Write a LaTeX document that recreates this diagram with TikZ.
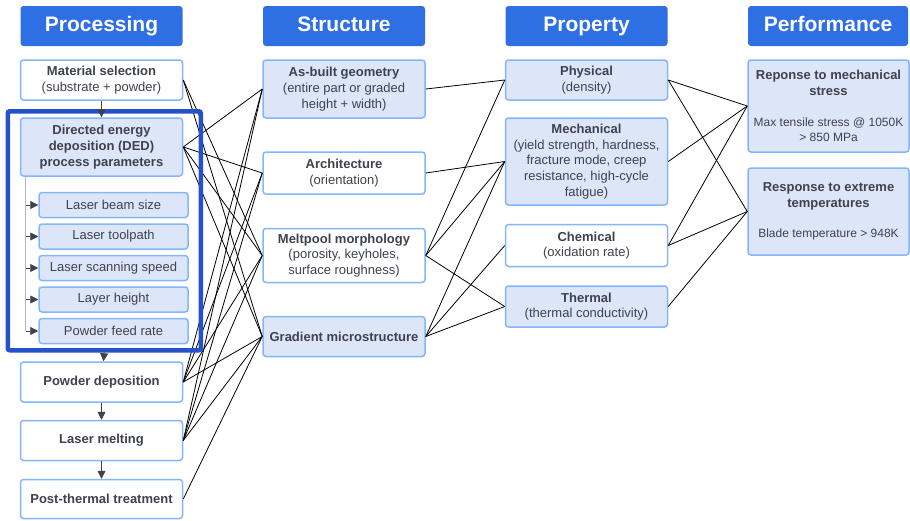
\documentclass[tikz,border=0pt]{standalone}
\usepackage{fontspec}
\setmainfont{Liberation Sans}
\usepackage{tikz}
\usetikzlibrary{calc,positioning,fit,arrows.meta}

\definecolor{headblue}{RGB}{46,111,227}
\definecolor{frameblue}{RGB}{36,82,200}
\definecolor{edgeblue}{RGB}{132,182,250}
\definecolor{paleblue}{RGB}{221,229,248}
\definecolor{inkgray}{RGB}{62,66,78}

\newcommand{\detail}[1]{{\fontsize{12}{14}\selectfont #1}}

\tikzset{
	headbox/.style={fill=headblue, rounded corners=3pt, minimum width=162pt, minimum height=40pt, text height=15pt, text depth=4.5pt, text=white, font=\fontsize{21}{24}\selectfont\bfseries},
	plainbox/.style={draw=edgeblue, line width=1.5pt, fill=white, rounded corners=3pt, minimum width=162pt, align=center, text=inkgray, font=\fontsize{13}{15.7}\selectfont, inner sep=2pt},
	shadebox/.style={plainbox, fill=paleblue},
	parambox/.style={shadebox, minimum width=149pt, minimum height=25pt},
	groupframe/.style={draw=frameblue, line width=4.5pt, rounded corners=2pt, inner xsep=12pt, inner ysep=6pt},
	link/.style={black, line width=0.8pt},
	flow/.style={-{Triangle[length=8pt,width=8pt]}, draw=inkgray, line width=0.7pt},
	trunkline/.style={draw=gray!55, line width=0.9pt}
}

\begin{document}
\begin{tikzpicture}[x=1pt,y=-1pt]
		\useasboundingbox (0,0) rectangle (910,520);

		% column headers
		\node[headbox] (hproc) at (101.5,26) {Processing};
		\node[headbox] (hstruct) at (344,26) {Structure};
		\node[headbox] (hprop) at (586.5,26) {Property};
		\node[headbox, minimum width=160pt] (hperf) at (828,26) {Performance};

		% processing
		\node[plainbox, minimum height=40pt] (matsel) at (101.5,80) {\textbf{Material selection}\\(substrate + powder)};
		\node[shadebox, minimum height=58pt] (ded) at (101.5,147) {\textbf{Directed energy}\\\textbf{deposition (DED)}\\\textbf{process parameters}};
		\node[parambox] (p1) at (113.5,205) {Laser beam size};
		\node[parambox] (p2) at (113.5,236.5) {Laser toolpath};
		\node[parambox] (p3) at (113.5,268) {Laser scanning speed};
		\node[parambox] (p4) at (113.5,299.5) {Layer height};
		\node[parambox] (p5) at (113.5,331) {Powder feed rate};
		\node[plainbox, minimum height=40pt] (powder) at (101.5,382) {\textbf{Powder deposition}};
		\node[plainbox, minimum height=40pt] (melting) at (101.5,440.5) {\textbf{Laser melting}};
		\node[plainbox, minimum height=39pt] (post) at (101.5,499) {\textbf{Post-thermal treatment}};

		% structure
		\node[shadebox, minimum height=58pt] (asbuilt) at (344,89) {\textbf{As-built geometry}\\(entire part or graded\\height + width)};
		\node[plainbox, minimum height=42pt] (arch) at (344,173) {\textbf{Architecture}\\(orientation)};
		\node[plainbox, minimum height=54pt] (meltpool) at (344,255.5) {\textbf{Meltpool morphology}\\(porosity, keyholes,\\surface roughness)};
		\node[shadebox, minimum height=40pt] (gradient) at (344,336.5) {\textbf{Gradient microstructure}};

		% property
		\node[shadebox, minimum height=40pt] (physical) at (586.5,80) {\textbf{Physical}\\(density)};
		\node[shadebox, minimum height=87pt] (mechanical) at (586.5,161.5) {\textbf{Mechanical}\\(yield strength, hardness,\\fracture mode, creep\\resistance, high-cycle\\fatigue)};
		\node[plainbox, minimum height=42pt] (chemical) at (586.5,245.5) {\textbf{Chemical}\\(oxidation rate)};
		\node[shadebox, minimum height=41pt] (thermal) at (586.5,306.5) {\textbf{Thermal}\\(thermal conductivity)};

		% performance
		\node[shadebox, minimum width=161pt, minimum height=92pt] (stress) at (828.5,106) {\textbf{Reponse to mechanical}\\\textbf{stress}\\[15pt]\detail{Max tensile stress @ 1050K}\\\detail{> 850 MPa}};
		\node[shadebox, minimum width=161pt, minimum height=87pt] (extreme) at (828.5,211.5) {\textbf{Response to extreme}\\\textbf{temperatures}\\[15pt]\detail{Blade temperature > 948K}};

		% links between columns
		\foreach \a/\b in {matsel/meltpool, matsel/gradient,
				ded/asbuilt, ded/arch, ded/meltpool, ded/gradient,
				powder/asbuilt, powder/arch, powder/meltpool, powder/gradient,
				melting/asbuilt, melting/arch, melting/meltpool, melting/gradient,
				post/gradient,
				asbuilt/physical, arch/mechanical,
				meltpool/physical, meltpool/mechanical, meltpool/thermal,
				gradient/mechanical, gradient/chemical, gradient/thermal,
				physical/stress, physical/extreme, mechanical/stress,
				chemical/stress, chemical/extreme, thermal/extreme}
			\draw[link] (\a.east) -- (\b.west);

		% DED group
		\node[groupframe, fit=(ded)(p1)(p5)] (dedgroup) {};
		\coordinate (trunk) at ($(ded.south west)+(6pt,0)$);
		\draw[trunkline] (trunk) -- (trunk |- p5.west);
		\foreach \i in {1,...,5}
			\draw[flow] (trunk |- p\i.west) -- (p\i.west);

		% process flow
		\draw[flow] (matsel) -- (ded);
		\draw[flow] (dedgroup.south) -- (powder);
		\draw[flow] (powder) -- (melting);
		\draw[flow] (melting) -- (post);
	\end{tikzpicture}
\end{document}
